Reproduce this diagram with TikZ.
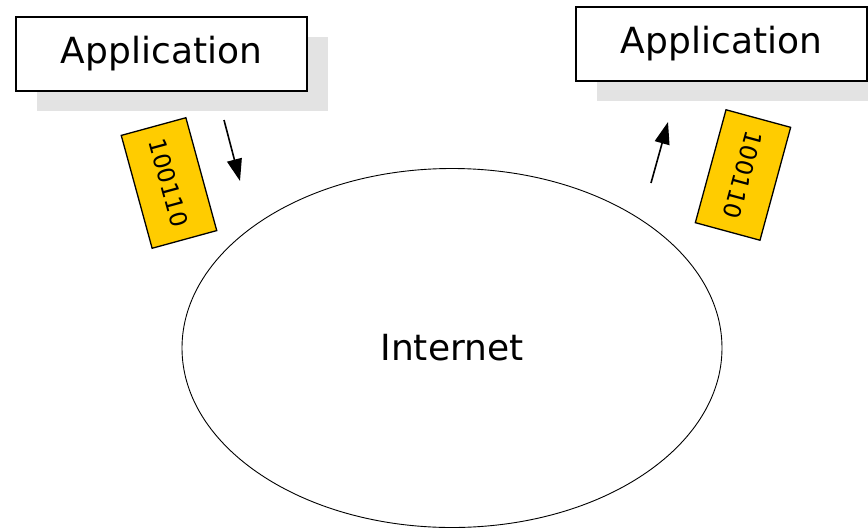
\documentclass[tikz,border=0pt]{standalone}
\usepackage{fontspec}
\setmainfont{DejaVu Sans}
\usetikzlibrary{positioning,shapes.geometric,shadows,arrows.meta}
\definecolor{bitgold}{RGB}{255,204,0}

\begin{document}
\begin{tikzpicture}[
    x=1pt, y=-1pt,
    flow/.style={-{Triangle[length=22pt,width=15pt]}, line width=1.6pt},
    appbox/.style={rectangle, draw, line width=1.6pt, fill=white,
        minimum width=291pt, minimum height=74pt, font=\fontsize{36}{40}\selectfont,
        drop shadow={shadow xshift=21pt, shadow yshift=-20pt, fill=gray!22, opacity=1}},
    bitcard/.style={rectangle, draw, line width=1.3pt, fill=bitgold,
        minimum width=117pt, minimum height=67pt, font=\fontsize{23.5}{26}\selectfont},
    cloud/.style={ellipse, draw, line width=0.9pt, minimum width=540pt, minimum height=359pt,
        font=\fontsize{36}{40}\selectfont}
]
\useasboundingbox (0,0) rectangle (868,528);

\node[cloud] (internet) at (452,348) {Internet};

\node[appbox] (sender) at (161.5,54) {Application};
\node[appbox] (receiver) at (721.5,44) {Application};

\node[bitcard, rotate=-74.7] (sendbits) at (169,183) {100110};
\node[bitcard, rotate=-105.2] (recvbits) at (743,175) {100110};

% packet flow
\coordinate (down1) at (224,120);
\coordinate (down2) at (240,181);
\coordinate (up1) at (651,183);
\coordinate (up2) at (668,122);
\draw[flow] (down1) -- (down2);
\draw[flow] (up1) -- (up2);
\end{tikzpicture}
\end{document}
